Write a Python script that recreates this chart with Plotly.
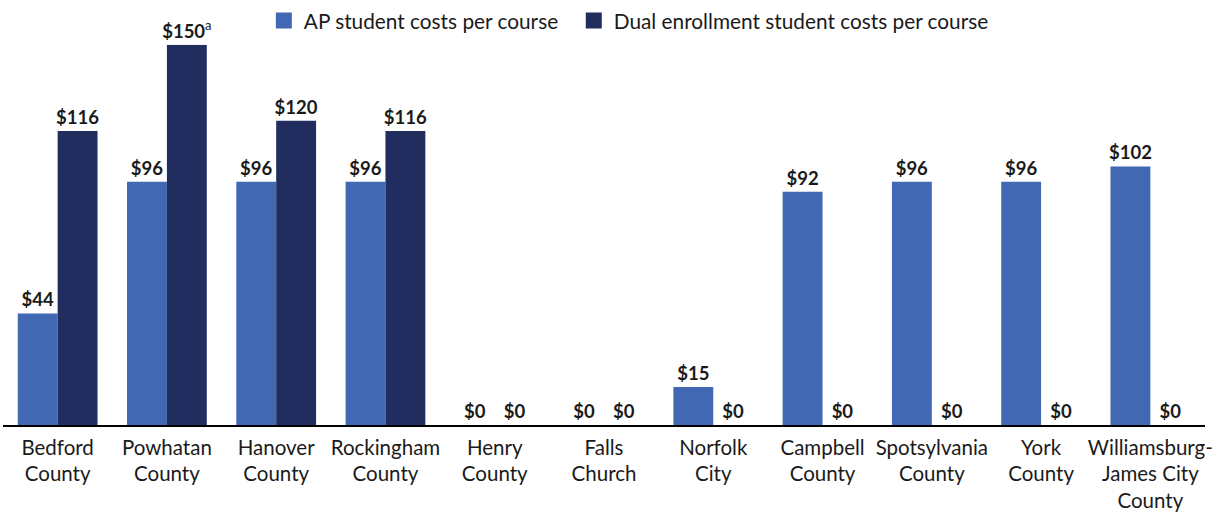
import plotly.graph_objects as go

categories = [
    "Bedford<br>County", "Powhatan<br>County", "Hanover<br>County", "Rockingham<br>County",
    "Henry<br>County", "Falls<br>Church", "Norfolk<br>City", "Campbell<br>County",
    "Spotsylvania<br>County", "York<br>County", "Williamsburg-<br>James City<br>County",
]
ap_costs = [44, 96, 96, 96, 0, 0, 15, 92, 96, 96, 102]
dual_costs = [116, 150, 120, 116, 0, 0, 0, 0, 0, 0, 0]
dual_notes = ["", "a", "", "", "", "", "", "", "", "", ""]

series_names = ["AP student costs per course", "Dual enrollment student costs per course"]
series_colors = ["#4169B3", "#222D5F"]

ap_labels = [f"${v}" for v in ap_costs]
dual_labels = [
    f"${v}<sup><span style='font-weight:normal'>{n}</span></sup>" if n else f"${v}"
    for v, n in zip(dual_costs, dual_notes)
]

FONT = "Lato"
TEXT_COLOR = "#1a1a1a"

fig = go.Figure()
for values, labels, name, color in [
    (ap_costs, ap_labels, series_names[0], series_colors[0]),
    (dual_costs, dual_labels, series_names[1], series_colors[1]),
]:
    fig.add_trace(go.Bar(
        x=categories, y=values, name=name, showlegend=False,
        marker=dict(color=color, line=dict(width=0)),
        text=labels, textposition="outside", cliponaxis=False,
        constraintext="none",
        textfont=dict(family=FONT, size=18.5, color=TEXT_COLOR),
        texttemplate="<b>%{text}</b>",
    ))

# Legend entries with larger square swatches; trailing spaces widen the gap
legend_gap = "\u00a0\u00a0"
for i, (name, color) in enumerate(zip(series_names, series_colors)):
    fig.add_trace(go.Scatter(
        x=[None], y=[None], mode="markers",
        name=name + (legend_gap if i == 0 else ""),
        marker=dict(symbol="square", size=18, color=color),
    ))

PLOT_H = 512 - 87           # paper height (top margin is zero)
PLOT_TOP = 43               # pixel row of the plot area's top edge

fig.update_layout(
    width=1219, height=512,
    margin=dict(l=3, r=14, t=0, b=87),
    barmode="group", bargap=0.27, bargroupgap=0,
    plot_bgcolor="white", paper_bgcolor="white",
    font=dict(family=FONT, size=20, color=TEXT_COLOR),
    legend=dict(
        orientation="h", x=0.217, xanchor="left",
        y=(PLOT_H - 19) / PLOT_H, yanchor="middle",
        font=dict(family=FONT, size=20.8, color=TEXT_COLOR),
        itemwidth=30, traceorder="normal",
        bgcolor="rgba(0,0,0,0)",
    ),
)
fig.update_xaxes(
    showline=True, linecolor="#000000", linewidth=2,
    ticks="", tickfont=dict(family=FONT, size=20.5, color=TEXT_COLOR),
    ticklabelstandoff=3,
    showgrid=False, tickangle=0,
)
fig.update_yaxes(
    range=[0, 150], visible=False, showgrid=False, zeroline=False,
    domain=[0, (PLOT_H - PLOT_TOP) / PLOT_H],
)

fig.write_html("out.html")
